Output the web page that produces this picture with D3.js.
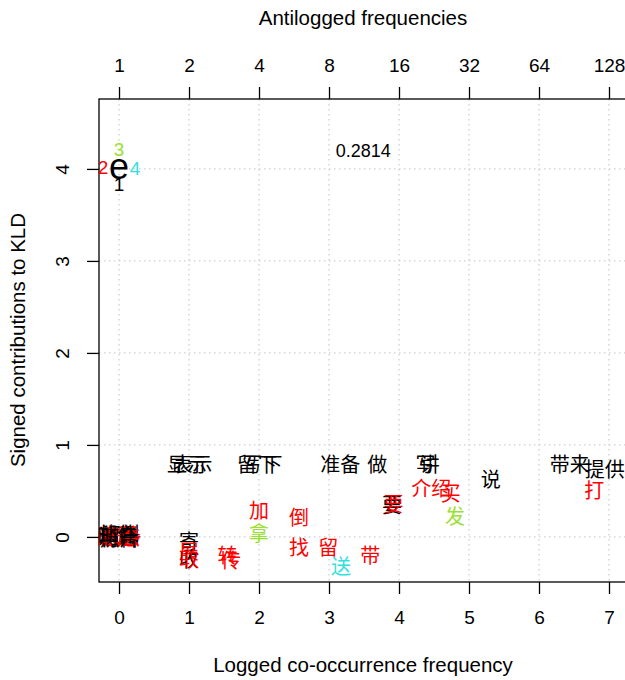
<!DOCTYPE html>
<html><head><meta charset="utf-8">
<script src="https://cdn.jsdelivr.net/npm/d3@7"></script>
<style>body{margin:0;background:#fff}svg{display:block}</style>
</head><body>
<script>
// ---- data ----
const words  = ["显示","表示","留下","写下","准备","做","写","讲","说","带来","提供","打","要","要","介绍","买","发","加","拿","倒","找","留","送","带","寄","展","收","取","转","传",
                "东西","信息","资料","问题","材料","文件","消息","机会","邮件","照片"];
const xVals  = [0.97,1.05,1.97,2.05,3.16,3.69,4.38,4.44,5.31,6.44,6.94,6.79,3.90,3.92,4.46,4.74,4.80,2.00,2.00,2.57,2.57,2.99,3.17,3.59,1.00,1.00,1.00,1.00,1.55,1.60,
                -0.02,0.01,0.03,-0.03,0.00,0.02,-0.01,0.03,-0.02,0.01];
const yVals  = [0.78,0.78,0.78,0.78,0.78,0.78,0.78,0.78,0.62,0.78,0.73,0.50,0.34,0.35,0.52,0.47,0.22,0.28,0.03,0.21,-0.12,-0.12,-0.32,-0.21,-0.05,-0.16,-0.25,-0.25,-0.20,-0.26,
                0.01,-0.01,0.02,0.00,-0.02,0.01,0.00,-0.01,0.02,-0.02];
const groups = [1,1,1,1,1,1,1,1,1,1,1,2,1,2,2,2,3,2,3,2,2,2,4,2,1,2,1,2,2,2,
                1,2,1,2,1,2,1,2,1,1];
const legendLabels = ["1","2","3","4"];
const statLabel = "0.2814";
const bottomTicks = [0,1,2,3,4,5,6,7];
const topTicks = [1,2,4,8,16,32,64,128];
const yTicks = [0,1,2,3,4];

// ---- layout ----
const W = 625, H = 680;
const palette = {1:"#000000",2:"#ff0000",3:"#99e033",4:"#33e0e0"};
const svg = d3.select("body").append("svg").attr("width",W).attr("height",H);
const x = d3.scaleLinear().domain([-0.286, 7.3]).range([99, 630]);
const y = d3.scaleLinear().domain([-0.49, 4.76]).range([582, 99]);
const font = "'Liberation Sans', Arial, sans-serif";
const cjk = "'Noto Sans CJK SC', sans-serif";

// grid
const grid = svg.append("g").attr("stroke","#cfcfcf").attr("stroke-dasharray","1.5,3.5").attr("stroke-width",1.3);
bottomTicks.forEach(t=>grid.append("line").attr("x1",x(t)).attr("x2",x(t)).attr("y1",99).attr("y2",582));
yTicks.forEach(t=>grid.append("line").attr("x1",99).attr("x2",630).attr("y1",y(t)).attr("y2",y(t)));

// frame
svg.append("rect").attr("x",99).attr("y",99).attr("width",531).attr("height",483)
  .attr("fill","none").attr("stroke","#000").attr("stroke-width",1.3);

// axes
const axB = svg.append("g").attr("transform","translate(0,582)")
  .call(d3.axisBottom(x).tickValues(bottomTicks).tickFormat(d3.format("d")).tickSize(12).tickPadding(17));
const axT = svg.append("g").attr("transform","translate(0,99)")
  .call(d3.axisTop(x).tickValues(bottomTicks).tickFormat((d,i)=>topTicks[i]).tickSize(12).tickPadding(15));
const axL = svg.append("g").attr("transform","translate(99,0)")
  .call(d3.axisLeft(y).tickValues(yTicks).tickFormat(d3.format("d")).tickSize(12));
[axB,axT,axL].forEach(a=>{
  a.select(".domain").remove();
  a.selectAll("line").attr("stroke","#000").attr("stroke-width",1.3);
  a.selectAll("text").attr("font-family",font).attr("font-size",19).attr("fill","#000");
});
axL.selectAll(".tick text").attr("text-anchor","middle").attr("x",0).attr("y",-37)
  .attr("dy","0.35em").attr("transform","rotate(-90)");

// titles
svg.append("text").attr("x",363).attr("y",25).attr("text-anchor","middle")
  .attr("font-family",font).attr("font-size",20.5).text("Antilogged frequencies");
svg.append("text").attr("x",363).attr("y",672).attr("text-anchor","middle")
  .attr("font-family",font).attr("font-size",20.5).text("Logged co-occurrence frequency");
svg.append("text").attr("transform","translate(25,340) rotate(-90)").attr("text-anchor","middle")
  .attr("font-family",font).attr("font-size",20.5).text("Signed contributions to KLD");

// words
svg.append("g").selectAll("text").data(words).join("text")
  .attr("x",(d,i)=>x(xVals[i])).attr("y",(d,i)=>y(yVals[i]))
  .attr("text-anchor","middle").attr("dy","0.36em")
  .attr("font-family",cjk).attr("font-size",20)
  .attr("fill",(d,i)=>palette[groups[i]]).text(d=>d);

// legend-like marker
svg.append("text").attr("x",x(0)).attr("y",y(4.02)).attr("dy","0.33em").attr("text-anchor","middle")
  .attr("font-family",font).attr("font-size",36).text("e");
const lgX=[0,-0.23,0,0.23], lgY=[3.83,4.02,4.22,4.01];
svg.append("g").selectAll("text").data(legendLabels).join("text")
  .attr("x",(d,i)=>x(lgX[i])).attr("y",(d,i)=>y(lgY[i])).attr("dy","0.36em").attr("text-anchor","middle")
  .attr("font-family",font).attr("font-size",19).attr("fill",(d,i)=>palette[i+1]).text(d=>d);

svg.append("text").attr("x",x(3.49)).attr("y",y(4.2)).attr("dy","0.36em").attr("text-anchor","middle")
  .attr("font-family",font).attr("font-size",18).text(statLabel);
</script>
</body></html>
